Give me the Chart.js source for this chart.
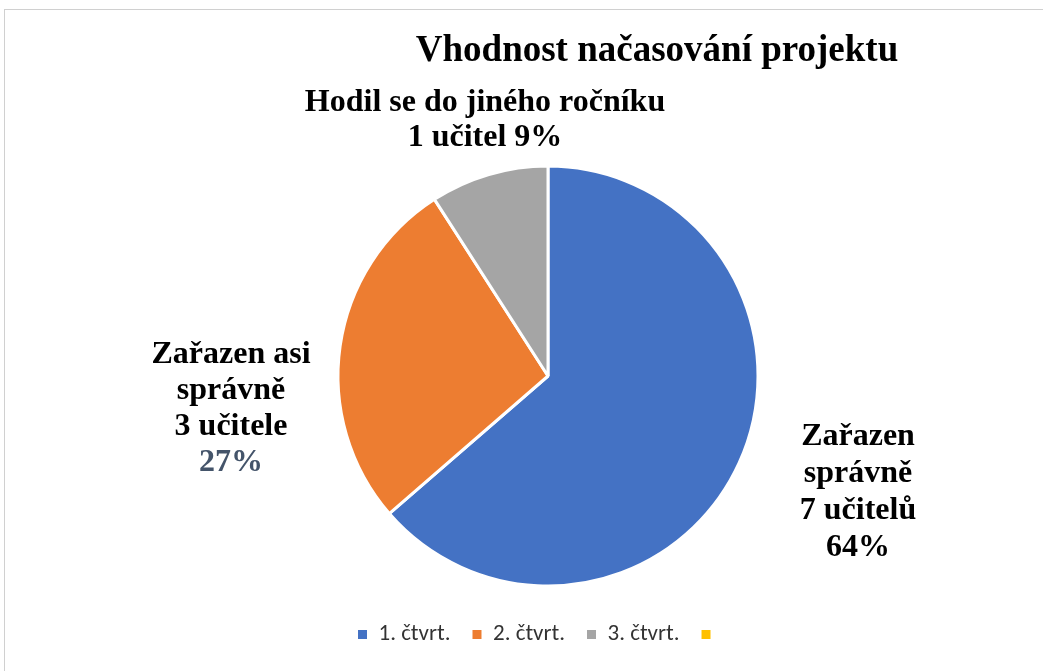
<!DOCTYPE html>
<html>
<head>
<meta charset="utf-8">
<script src="https://cdn.jsdelivr.net/npm/chart.js@4/dist/chart.umd.min.js"></script>
<style>
  html, body { margin: 0; padding: 0; background: #ffffff; overflow: hidden; }
  #frame { position: absolute; left: 4px; top: 9px; width: 1200px; height: 800px;
           border-left: 1px solid #d0d0d0; border-top: 1px solid #d0d0d0; box-sizing: border-box; }
  #c { position: absolute; left: 0; top: 0; }
</style>
</head>
<body>
<div id="frame"></div>
<canvas id="c" width="1043" height="671"></canvas>
<script>
// ---- data ----
const chartTitle = "Vhodnost načasování projektu";
const categories = ["1. čtvrt.", "2. čtvrt.", "3. čtvrt.", ""];
const teacherCounts = [7, 3, 1, 0];
const sliceNames = [
  ["Zařazen", "správně", "7 učitelů"],
  ["Zařazen asi", "správně", "3 učitele"],
  ["Hodil se do jiného ročníku", "1 učitel"],
  []
];
const sliceColors = ["#4472C4", "#ED7D31", "#A5A5A5", "#FFC000"];

const total = teacherCounts.reduce((a, b) => a + b, 0);
const pct = v => Math.round(v / total * 100) + "%";

const serif = "'Liberation Serif', 'Times New Roman', serif";

// label placement (text centers / first baseline), percent on own line or appended
const labelLayout = [
  { cx: 858, y0: 445, lh: 37, pctOwnLine: true, pctColor: "#000000" },
  { cx: 231, y0: 363, lh: 36, pctOwnLine: true, pctColor: "#44546A" },
  { cx: 485, y0: 111, lh: 35, pctOwnLine: false, pctColor: "#000000" },
  null
];

const textPlugin = {
  id: 'textPlugin',
  beforeLayout(chart) {
    const lg = chart.legend;
    if (lg && !lg._patched) {
      const orig = lg.fit.bind(lg);
      lg.fit = function () { orig(); this.height = 70; };
      lg._patched = true;
    }
  },
  afterLayout(chart) {
    if (chart.legend) { chart.legend.left -= 8; chart.legend.right -= 8; }
  },
  afterDraw(chart) {
    const ctx = chart.ctx;
    ctx.save();
    ctx.fillStyle = "#000000";
    ctx.textAlign = "center";
    ctx.textBaseline = "alphabetic";
    ctx.font = "bold 37px " + serif;
    ctx.fillText(chartTitle, 657, 61);

    ctx.font = "bold 32px " + serif;
    teacherCounts.forEach((v, i) => {
      const L = labelLayout[i];
      if (!L || v === 0) return;
      const lines = sliceNames[i].slice();
      let y = L.y0;
      lines.forEach((t, k) => {
        const isLast = k === lines.length - 1;
        let text = t;
        if (isLast && !L.pctOwnLine) text = t + " " + pct(v);
        ctx.fillStyle = "#000000";
        ctx.fillText(text, L.cx, y);
        y += L.lh;
      });
      if (L.pctOwnLine) {
        ctx.fillStyle = L.pctColor;
        ctx.fillText(pct(v), L.cx, y);
      }
    });
    ctx.restore();
  }
};

new Chart(document.getElementById('c'), {
  type: 'pie',
  data: {
    labels: categories,
    datasets: [{
      data: teacherCounts,
      backgroundColor: sliceColors,
      borderColor: "#ffffff",
      borderWidth: 3,
      radius: 210,
      clip: false
    }]
  },
  options: {
    responsive: false,
    animation: false,
    devicePixelRatio: 1,
    layout: { padding: { top: 151, bottom: 0, left: 300, right: 247 } },
    plugins: {
      tooltip: { enabled: false },
      title: { display: false },
      legend: {
        display: true,
        position: 'bottom',
        labels: {
          boxWidth: 9,
          boxHeight: 9,
          padding: 22,
          color: "#333333",
          font: { family: "Carlito, 'Open Sans', sans-serif", size: 23 },
          generateLabels(chart) {
            return Chart.overrides.pie.plugins.legend.labels.generateLabels(chart)
              .map(l => Object.assign({}, l, { lineWidth: 0, strokeStyle: 'rgba(0,0,0,0)' }));
          }
        }
      }
    }
  },
  plugins: [textPlugin]
});
</script>
</body>
</html>
